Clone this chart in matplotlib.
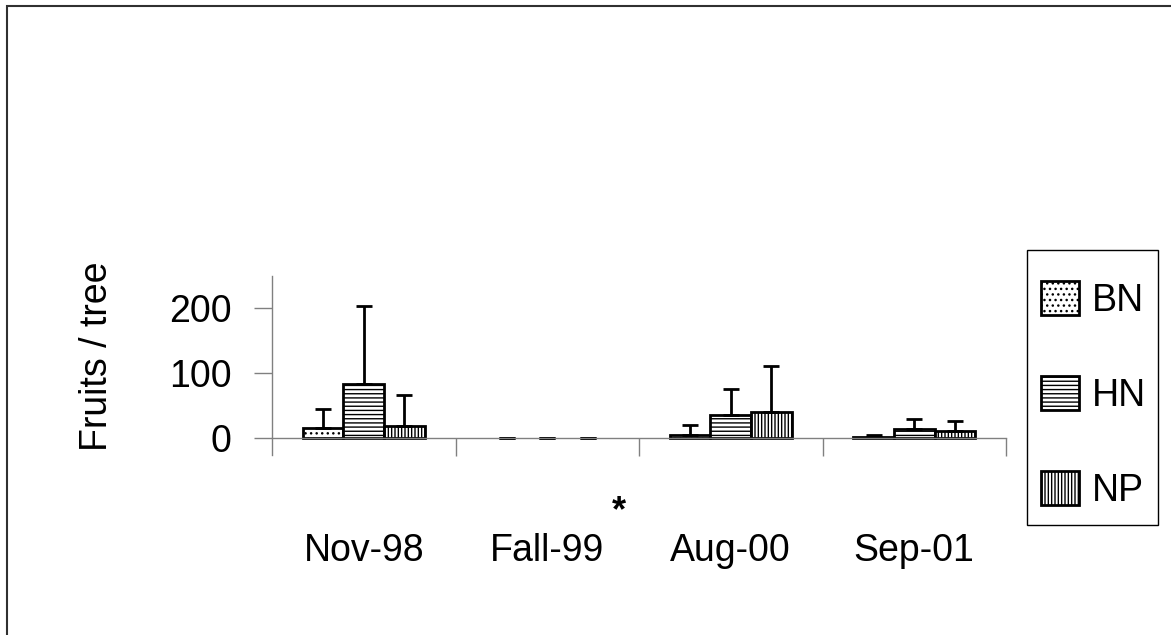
import numpy as np
import matplotlib
matplotlib.use("Agg")
import matplotlib.pyplot as plt
from matplotlib.patches import Rectangle
from matplotlib.transforms import blended_transform_factory

plt.rcParams['font.family'] = ['Liberation Sans', 'DejaVu Sans']
plt.rcParams['hatch.linewidth'] = 1.0

# fruits per tree, mean and standard deviation for each site type
dates = ['Nov-98', 'Fall-99', 'Aug-00', 'Sep-01']
sites = ['BN', 'HN', 'NP']
bn_mean = [15, 0, 5, 2]
bn_sd = [30, 0, 15, 2]
hn_mean = [83, 0, 35, 14]
hn_sd = [120, 0, 40, 15]
np_mean = [19, 0, 40, 11]
np_sd = [47, 0, 71, 15]
hatches = ['...', '----', '|||||']

W, H = 1171, 635
fig = plt.figure(figsize=(W / 100, H / 100), dpi=100)
ax = fig.add_axes([272 / W, 1 - 455 / H, (1006 - 272) / W, (455 - 276) / H])

x = np.arange(len(dates))
width = 0.222
grey = '#808080'
for i, (m, sd) in enumerate([(bn_mean, bn_sd), (hn_mean, hn_sd), (np_mean, np_sd)]):
    bars = ax.bar(x + (i - 1) * width, m, width, color='white', edgecolor='black',
                  linewidth=2, hatch=hatches[i], label=sites[i],
                  yerr=[np.zeros(len(m)), sd],
                  error_kw=dict(ecolor='black', elinewidth=2, capsize=6, capthick=2))
    # empty samples only show the error cap
    for b, v in zip(bars, m):
        if v == 0:
            b.set_linewidth(0)

ax.set_xlim(-0.5, 3.5)
ax.set_ylim(-26, 249)
ax.spines['top'].set_visible(False)
ax.spines['right'].set_visible(False)
ax.spines['bottom'].set_position(('data', 0))
for s in ['left', 'bottom']:
    ax.spines[s].set_color(grey)
    ax.spines[s].set_linewidth(1.0)

ax.set_yticks([0, 100, 200])
ax.tick_params(axis='y', direction='out', length=13, width=1.0, color=grey,
               labelsize=27, pad=16)
ax.set_xticks(x)
ax.set_xticklabels(dates)
ax.set_xticks([0.5, 1.5, 2.5, 3.5], minor=True)
ax.tick_params(axis='x', which='major', length=0, labelsize=27, pad=68)
ax.tick_params(axis='x', which='minor', direction='out', length=13, width=1.0,
               color=grey)

fig.text(97 / W, 1 - 356 / H, 'Fruits / tree', rotation=90, fontsize=27,
         ha='center', va='center')

# note marker beside the Fall-99 label
tr = blended_transform_factory(ax.transData, fig.transFigure)
ax.text(1.39, 1 - 512 / H, '*', transform=tr, fontsize=26, fontweight='bold',
        ha='center', va='center', clip_on=False)

# legend entries, with the box drawn separately
leg = ax.legend(loc='upper left', bbox_to_anchor=(1041 / W, 1 - 281 / H),
                bbox_transform=fig.transFigure, borderaxespad=0, borderpad=0,
                fontsize=27, handlelength=1.0, handleheight=1.0,
                handletextpad=0.35, labelspacing=1.53, frameon=False)
fig.add_artist(Rectangle((1027 / W, 1 - 525 / H), 131 / W, 275 / H,
                         transform=fig.transFigure, fill=False,
                         edgecolor='black', linewidth=1.0))

# chart area border
fig.add_artist(Rectangle((7 / W, -0.1), 1.2, 1.1 - 6 / H, transform=fig.transFigure,
                         fill=False, edgecolor='#303030', linewidth=1.5))

fig.savefig('out.png', dpi=100)
